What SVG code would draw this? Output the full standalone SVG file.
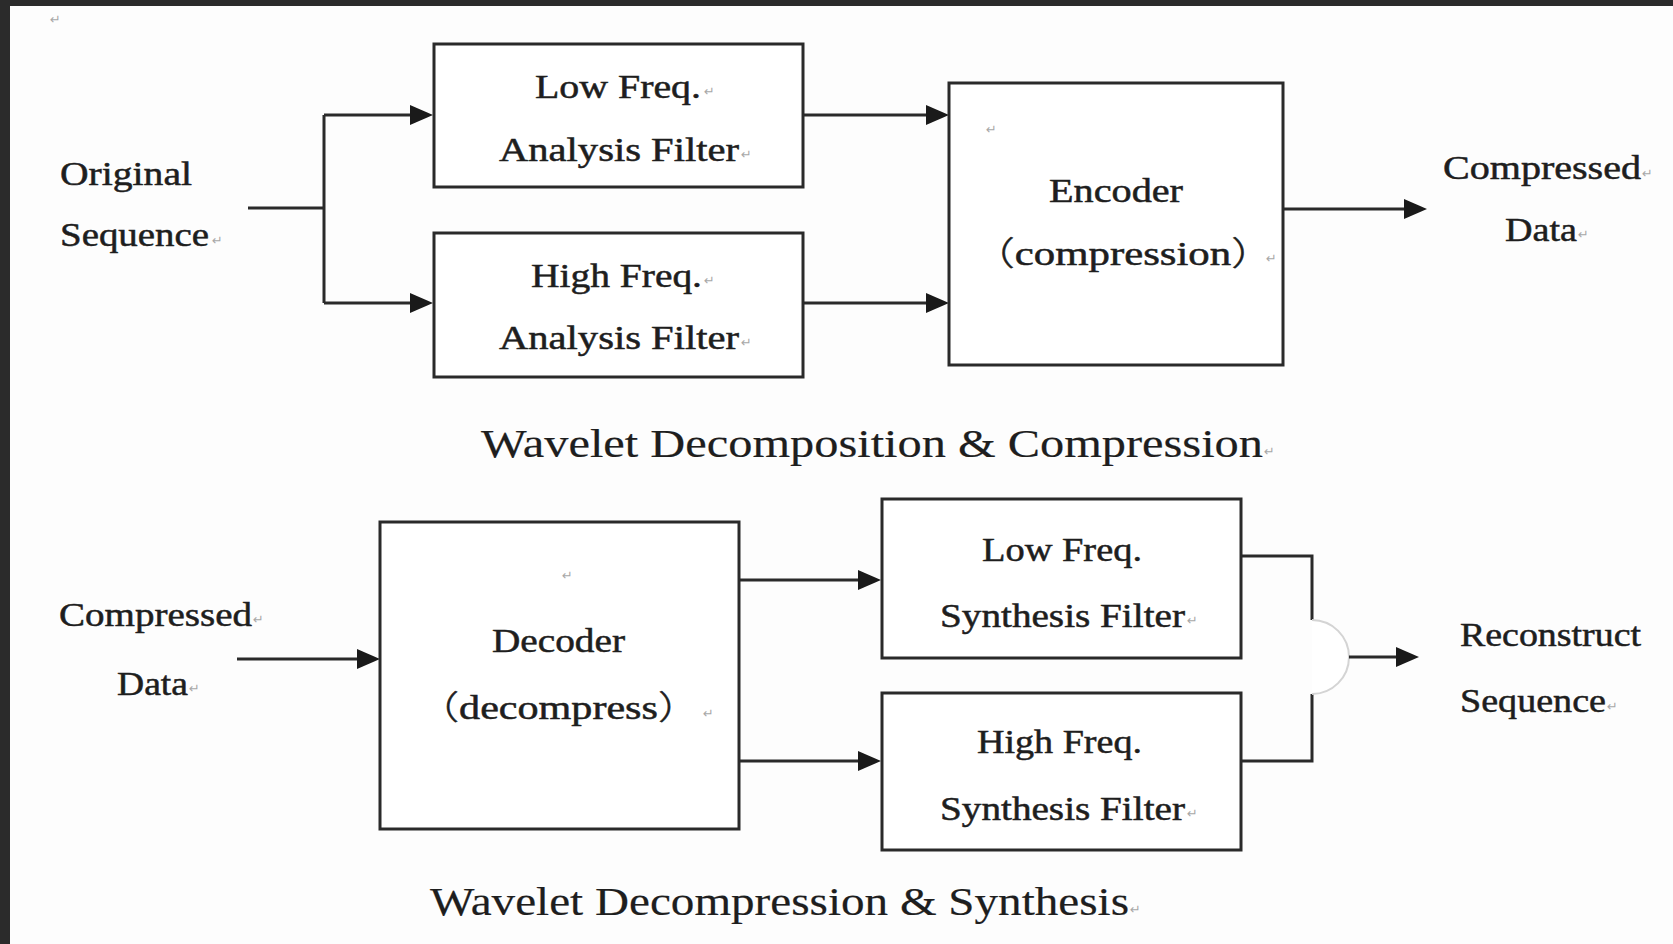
<svg xmlns="http://www.w3.org/2000/svg" width="1673" height="944" viewBox="0 0 1673 944">
<style>
.bg{fill:#fdfdfd}
.frame{fill:#2b2b2b}
.box{fill:#ffffff;stroke:#2a2a2a;stroke-width:3}
.ln{fill:none;stroke:#2a2a2a;stroke-width:3}
.arc{fill:#ffffff;stroke:#d4d4d4;stroke-width:2}
.t{font-family:"Liberation Serif","Noto Sans CJK SC",serif;font-size:33px;fill:#1e1e1e;stroke:#1e1e1e;stroke-width:0.5}
.cap{font-family:"Liberation Serif","Noto Sans CJK SC",serif;font-size:40px;fill:#1e1e1e;stroke:#1e1e1e;stroke-width:0.2}
.cjk{font-family:"Noto Sans CJK SC",sans-serif;font-weight:300}
.rm{font-family:"DejaVu Sans",sans-serif;font-size:13px;fill:#a8a8a8}
</style>
<defs>
<marker id="ah" markerWidth="24" markerHeight="22" refX="13" refY="11" orient="auto" markerUnits="userSpaceOnUse">
<path d="M0,1 L23,11 L0,21 z" fill="#1a1a1a"/>
</marker>
</defs>
<rect class="bg" x="0" y="0" width="1673" height="944"/>
<rect class="frame" x="0" y="0" width="1673" height="6"/>
<rect class="frame" x="0" y="0" width="10" height="944"/>
<text class="rm" x="50" y="24">↵</text>

<g id="connectors">
<path class="ln" d="M248,208 H324 M324,115 V303"/>
<path class="ln" d="M324,115 H423" marker-end="url(#ah)"/>
<path class="ln" d="M324,303 H423" marker-end="url(#ah)"/>
<path class="ln" d="M803,115 H939" marker-end="url(#ah)"/>
<path class="ln" d="M803,303 H939" marker-end="url(#ah)"/>
<path class="ln" d="M1283,209 H1417" marker-end="url(#ah)"/>
<path class="ln" d="M237,659 H370" marker-end="url(#ah)"/>
<path class="ln" d="M739,580 H871" marker-end="url(#ah)"/>
<path class="ln" d="M739,761 H871" marker-end="url(#ah)"/>
<path class="ln" d="M1241,556 H1312 V620 M1241,761 H1312 V694"/>
<path class="arc" d="M1312,620 A37,37 0 0 1 1312,694"/>
<path class="ln" d="M1349,657 H1409" marker-end="url(#ah)"/>
</g>

<g id="original-sequence">
<text class="t" x="60" y="185" textLength="132" lengthAdjust="spacingAndGlyphs">Original</text>
<text class="t" x="60" y="246" textLength="149" lengthAdjust="spacingAndGlyphs">Sequence</text>
<text class="rm" x="212" y="245">↵</text>
</g>

<g id="low-analysis">
<rect class="box" x="434" y="44" width="369" height="143"/>
<text class="t" x="535" y="98" textLength="166" lengthAdjust="spacingAndGlyphs">Low Freq.</text>
<text class="rm" x="704" y="96">↵</text>
<text class="t" x="499" y="161" textLength="240" lengthAdjust="spacingAndGlyphs">Analysis Filter</text>
<text class="rm" x="741" y="159">↵</text>
</g>

<g id="high-analysis">
<rect class="box" x="434" y="233" width="369" height="144"/>
<text class="t" x="531" y="287" textLength="171" lengthAdjust="spacingAndGlyphs">High Freq.</text>
<text class="rm" x="704" y="285">↵</text>
<text class="t" x="499" y="349" textLength="240" lengthAdjust="spacingAndGlyphs">Analysis Filter</text>
<text class="rm" x="741" y="347">↵</text>
</g>

<g id="encoder">
<rect class="box" x="949" y="83" width="334" height="282"/>
<text class="rm" x="986" y="134">↵</text>
<text class="t" x="1049" y="202" textLength="134" lengthAdjust="spacingAndGlyphs">Encoder</text>
<text class="t" x="972" y="265" textLength="302" lengthAdjust="spacingAndGlyphs"><tspan class="cjk">（</tspan>compression<tspan class="cjk">）</tspan></text>
<text class="rm" x="1266" y="263">↵</text>
</g>

<g id="compressed-data-out">
<text class="t" x="1443" y="179" textLength="198" lengthAdjust="spacingAndGlyphs">Compressed</text>
<text class="rm" x="1642" y="178">↵</text>
<text class="t" x="1505" y="241" textLength="72" lengthAdjust="spacingAndGlyphs">Data</text>
<text class="rm" x="1578" y="239">↵</text>
</g>

<g id="caption-top">
<text class="cap" x="481" y="457" textLength="782" lengthAdjust="spacingAndGlyphs">Wavelet Decomposition &amp; Compression</text>
<text class="rm" x="1264" y="456">↵</text>
</g>

<g id="compressed-data-in">
<text class="t" x="59" y="626" textLength="193" lengthAdjust="spacingAndGlyphs">Compressed</text>
<text class="rm" x="253" y="624">↵</text>
<text class="t" x="117" y="695" textLength="71" lengthAdjust="spacingAndGlyphs">Data</text>
<text class="rm" x="189" y="693">↵</text>
</g>

<g id="decoder">
<rect class="box" x="380" y="522" width="359" height="307"/>
<text class="rm" x="562" y="580">↵</text>
<text class="t" x="492" y="652" textLength="133" lengthAdjust="spacingAndGlyphs">Decoder</text>
<text class="t" x="417" y="719" textLength="283" lengthAdjust="spacingAndGlyphs"><tspan class="cjk">（</tspan>decompress<tspan class="cjk">）</tspan></text>
<text class="rm" x="703" y="718">↵</text>
</g>

<g id="low-synthesis">
<rect class="box" x="882" y="499" width="359" height="159"/>
<text class="t" x="982" y="561" textLength="160" lengthAdjust="spacingAndGlyphs">Low Freq.</text>
<text class="t" x="940" y="627" textLength="245" lengthAdjust="spacingAndGlyphs">Synthesis Filter</text>
<text class="rm" x="1187" y="625">↵</text>
</g>

<g id="high-synthesis">
<rect class="box" x="882" y="693" width="359" height="157"/>
<text class="t" x="977" y="753" textLength="165" lengthAdjust="spacingAndGlyphs">High Freq.</text>
<text class="t" x="940" y="820" textLength="245" lengthAdjust="spacingAndGlyphs">Synthesis Filter</text>
<text class="rm" x="1187" y="818">↵</text>
</g>

<g id="reconstruct-sequence">
<text class="t" x="1460" y="646" textLength="181" lengthAdjust="spacingAndGlyphs">Reconstruct</text>
<text class="t" x="1460" y="712" textLength="146" lengthAdjust="spacingAndGlyphs">Sequence</text>
<text class="rm" x="1607" y="711">↵</text>
</g>

<g id="caption-bottom">
<text class="cap" x="430" y="915" textLength="699" lengthAdjust="spacingAndGlyphs">Wavelet Decompression &amp; Synthesis</text>
<text class="rm" x="1130" y="914">↵</text>
</g>
</svg>
